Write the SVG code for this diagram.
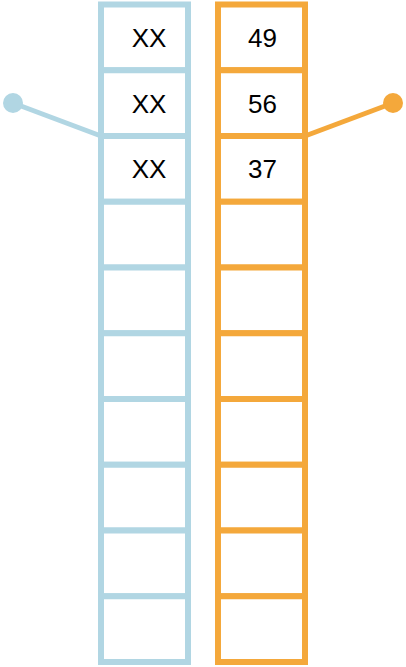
<svg xmlns="http://www.w3.org/2000/svg" width="406" height="667" viewBox="0 0 406 667">
<style>
.b{fill:#fff;stroke:#b1d6e3;stroke-width:6}
.o{fill:#fff;stroke:#f4a83b;stroke-width:6}
.t{font-family:"Liberation Sans",Arial,sans-serif;font-size:26px;fill:#000;text-anchor:middle}
</style>
<rect width="406" height="667" fill="#fff"/>
<g id="connectors">
<line x1="13" y1="103" x2="101" y2="136" stroke="#b1d6e3" stroke-width="5"/>
<circle cx="13" cy="103" r="10" fill="#b1d6e3"/>
<line x1="393" y1="103" x2="305" y2="136" stroke="#f4a83b" stroke-width="5"/>
<circle cx="393" cy="103" r="10" fill="#f4a83b"/>
</g>
<g id="left-array">
<g id="l0"><rect class="b" x="101" y="4.5" width="87" height="65.75"/><text class="t" x="149" y="46.7">XX</text></g>
<g id="l1"><rect class="b" x="101" y="70.25" width="87" height="65.75"/><text class="t" x="149" y="112.7">XX</text></g>
<g id="l2"><rect class="b" x="101" y="136" width="87" height="65.75"/><text class="t" x="149" y="178.3">XX</text></g>
<g id="l3"><rect class="b" x="101" y="201.75" width="87" height="65.75"/></g>
<g id="l4"><rect class="b" x="101" y="267.5" width="87" height="65.75"/></g>
<g id="l5"><rect class="b" x="101" y="333.25" width="87" height="65.75"/></g>
<g id="l6"><rect class="b" x="101" y="399" width="87" height="65.75"/></g>
<g id="l7"><rect class="b" x="101" y="464.75" width="87" height="65.75"/></g>
<g id="l8"><rect class="b" x="101" y="530.5" width="87" height="65.75"/></g>
<g id="l9"><rect class="b" x="101" y="596.25" width="87" height="65.75"/></g>
</g>
<g id="right-array">
<g id="r0"><rect class="o" x="218" y="4.5" width="87" height="65.75"/><text class="t" x="262.5" y="46.7">49</text></g>
<g id="r1"><rect class="o" x="218" y="70.25" width="87" height="65.75"/><text class="t" x="262.5" y="112.7">56</text></g>
<g id="r2"><rect class="o" x="218" y="136" width="87" height="65.75"/><text class="t" x="262.5" y="178.3">37</text></g>
<g id="r3"><rect class="o" x="218" y="201.75" width="87" height="65.75"/></g>
<g id="r4"><rect class="o" x="218" y="267.5" width="87" height="65.75"/></g>
<g id="r5"><rect class="o" x="218" y="333.25" width="87" height="65.75"/></g>
<g id="r6"><rect class="o" x="218" y="399" width="87" height="65.75"/></g>
<g id="r7"><rect class="o" x="218" y="464.75" width="87" height="65.75"/></g>
<g id="r8"><rect class="o" x="218" y="530.5" width="87" height="65.75"/></g>
<g id="r9"><rect class="o" x="218" y="596.25" width="87" height="65.75"/></g>
</g>
</svg>
